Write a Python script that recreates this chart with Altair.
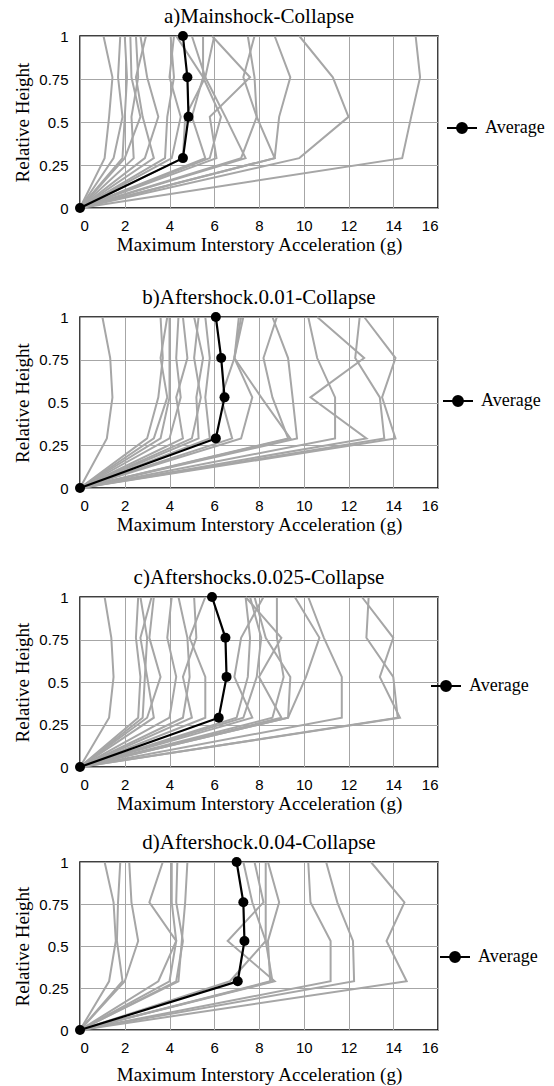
import altair as alt
import pandas as pd

HEIGHTS = [0.0, 0.29, 0.53, 0.76, 1.0]
X_TICKS = [0, 2, 4, 6, 8, 10, 12, 14, 16]
Y_TICKS = [0, 0.25, 0.5, 0.75, 1]
TITLES = [
    "a)Mainshock-Collapse",
    "b)Aftershock.0.01-Collapse",
    "c)Aftershocks.0.025-Collapse",
    "d)Aftershock.0.04-Collapse",
]

# Each record: max interstory acceleration (g) at relative heights 0.29, 0.53, 0.76, 1.0
A_RECORDS = [
    [1.1, 1.3, 1.45, 1.05], [1.5, 1.9, 1.7, 1.8], [1.9, 2.0, 2.1, 2.0],
    [2.0, 2.7, 2.3, 2.25], [2.4, 2.3, 2.6, 2.5], [2.9, 3.5, 3.0, 2.7],
    [3.3, 2.8, 2.5, 2.95], [3.8, 3.9, 4.2, 4.05], [4.1, 4.5, 4.0, 4.2],
    [4.6, 4.7, 5.6, 5.0], [5.6, 5.0, 5.5, 4.3], [5.8, 6.3, 5.5, 5.5],
    [6.1, 5.8, 7.6, 5.9], [7.4, 6.5, 5.6, 6.0], [7.2, 7.9, 7.8, 7.5],
    [8.7, 7.9, 7.3, 7.8], [8.7, 8.9, 9.4, 8.7], [9.8, 12.0, 11.3, 9.8],
    [14.4, 14.8, 15.2, 15.0],
]
A_AVERAGE = [4.6, 4.85, 4.8, 4.6]

B_RECORDS = [
    [1.2, 1.45, 1.35, 1.0], [3.0, 3.5, 3.7, 3.6], [3.3, 3.9, 3.6, 3.9],
    [3.6, 4.0, 4.0, 4.0], [4.0, 4.5, 4.3, 4.4], [4.6, 4.3, 4.8, 4.6],
    [5.0, 5.4, 5.1, 5.3], [5.3, 5.2, 5.5, 5.1], [5.8, 5.6, 5.8, 5.6],
    [6.8, 6.3, 6.9, 7.3], [7.2, 7.7, 6.9, 7.2], [9.3, 8.6, 8.2, 8.8],
    [9.7, 9.5, 9.3, 8.6], [9.4, 8.1, 6.9, 7.1], [11.4, 11.4, 10.6, 10.2],
    [12.8, 10.3, 12.7, 10.6], [13.6, 13.4, 12.3, 12.5], [14.1, 13.5, 14.1, 12.7],
]
B_AVERAGE = [6.07, 6.46, 6.31, 6.07]

C_RECORDS = [
    [1.3, 1.5, 1.4, 1.1], [2.6, 2.7, 2.5, 2.6], [2.8, 2.9, 3.0, 2.7],
    [3.0, 3.6, 3.1, 3.3], [3.3, 3.0, 2.7, 3.2], [4.0, 4.3, 3.9, 4.1],
    [4.6, 4.9, 4.8, 4.4], [5.0, 4.6, 5.2, 5.1], [5.6, 5.6, 4.9, 5.6],
    [7.0, 7.5, 7.6, 7.4], [7.3, 7.9, 8.1, 7.6], [7.7, 6.9, 7.2, 8.2],
    [8.6, 9.1, 8.8, 8.8], [9.0, 8.0, 9.0, 7.4], [9.3, 9.4, 8.3, 7.8],
    [9.3, 10.1, 10.7, 9.6], [11.7, 11.7, 10.9, 10.2], [14.3, 13.4, 14.0, 12.6],
    [14.2, 14.0, 12.8, 12.9],
]
C_AVERAGE = [6.2, 6.55, 6.5, 5.9]

D_RECORDS = [
    [1.3, 1.6, 1.5, 1.1], [1.9, 1.65, 1.7, 1.8], [2.0, 2.6, 2.3, 2.2],
    [3.5, 4.3, 3.1, 3.7], [4.0, 4.3, 4.1, 4.1], [4.3, 4.6, 4.3, 4.35],
    [4.4, 4.55, 4.7, 4.8], [6.7, 8.3, 7.7, 7.3], [8.7, 6.6, 8.2, 7.8],
    [8.5, 8.4, 8.9, 8.4], [8.6, 8.3, 8.3, 8.3], [11.2, 11.2, 10.3, 10.2],
    [12.25, 12.2, 11.5, 11.0], [14.6, 13.7, 14.5, 13.0],
]
D_AVERAGE = [7.05, 7.35, 7.3, 7.0]

LEGEND_SYMBOL = "M-1,0H1M-0.33,0A0.33,0.33,0,1,0,0.33,0A0.33,0.33,0,1,0,-0.33,0Z"
SERIF = "Liberation Serif, Times New Roman, serif"
SANS = "Liberation Sans, Arial, sans-serif"


def make_panel(title, records, average, legend_x, legend_y, x_title_pad, height):
    rows = []
    for r, rec in enumerate(records):
        for k, (h, v) in enumerate(zip(HEIGHTS, [0.0] + list(rec))):
            rows.append({"rec": r, "k": k, "x": v, "h": h})
    df = pd.DataFrame(rows)
    avg_df = pd.DataFrame({"k": list(range(5)), "x": [0.0] + list(average),
                           "h": HEIGHTS, "s": ["Average"] * 5})

    xenc = alt.X("x:Q", scale=alt.Scale(domain=[0, 16], nice=False),
                 axis=alt.Axis(values=X_TICKS, title="Maximum Interstory Acceleration (g)",
                               titlePadding=x_title_pad, titleFont=SERIF,
                               titleFontSize=19, titleFontWeight="normal",
                               labelFont=SANS, labelFontSize=15, labelPadding=10))
    yenc = alt.Y("h:Q", scale=alt.Scale(domain=[0, 1], nice=False),
                 axis=alt.Axis(values=Y_TICKS, format=".2~f", title="Relative Height",
                               titleFont=SERIF, titleFontSize=19, titleFontWeight="normal",
                               labelFont=SANS, labelFontSize=15, labelPadding=12,
                               titlePadding=6))

    gray = alt.Chart(df).mark_line(color="#a6a6a6", strokeWidth=2).encode(
        x=xenc, y=yenc, detail="rec:N", order=alt.Order("k:Q"))
    avg_line = alt.Chart(avg_df).mark_line(color="black", strokeWidth=2.2).encode(
        x="x:Q", y="h:Q", order=alt.Order("k:Q"))
    avg_pts = alt.Chart(avg_df).mark_point(filled=True, size=100, opacity=1).encode(
        x="x:Q", y="h:Q",
        color=alt.Color("s:N", scale=alt.Scale(domain=["Average"], range=["black"]),
                        legend=alt.Legend(title=None, orient="none", legendX=legend_x,
                                          legendY=legend_y, symbolType=LEGEND_SYMBOL,
                                          symbolSize=900, symbolFillColor="black",
                                          symbolStrokeColor="black", symbolStrokeWidth=2,
                                          labelFont=SERIF, labelFontSize=18,
                                          labelColor="black", labelOffset=7)))
    return alt.layer(gray, avg_line, avg_pts).properties(
        width=358, height=height,
        title=alt.TitleParams(title, font=SERIF, fontSize=21,
                              fontWeight="normal", color="black", anchor="middle",
                              frame="group", offset=2))


pa = make_panel(TITLES[0], A_RECORDS, A_AVERAGE, 366, 76, 2, 172)
pb = make_panel(TITLES[1], B_RECORDS, B_AVERAGE, 362, 68, 2, 171)
pc = make_panel(TITLES[2], C_RECORDS, C_AVERAGE, 350, 73, 2, 170)
pd_ = make_panel(TITLES[3], D_RECORDS, D_AVERAGE, 359, 79, 10, 168)

top = alt.vconcat(pa, pb, pc, spacing=31).resolve_scale(color="independent").resolve_legend(color="independent")
chart = alt.vconcat(top, pd_, spacing=17).resolve_scale(color="independent").resolve_legend(
    color="independent"
).configure_axis(
    labelColor="black", titleColor="black", gridColor="#a6a6a6", gridWidth=1,
    domain=False, ticks=False,
).configure_view(stroke="black", strokeWidth=1.5).properties(
    padding={"left": 13, "top": 5, "right": 5, "bottom": 2}
)

chart.save("out.html", embed_options={"renderer": "svg", "actions": False})
